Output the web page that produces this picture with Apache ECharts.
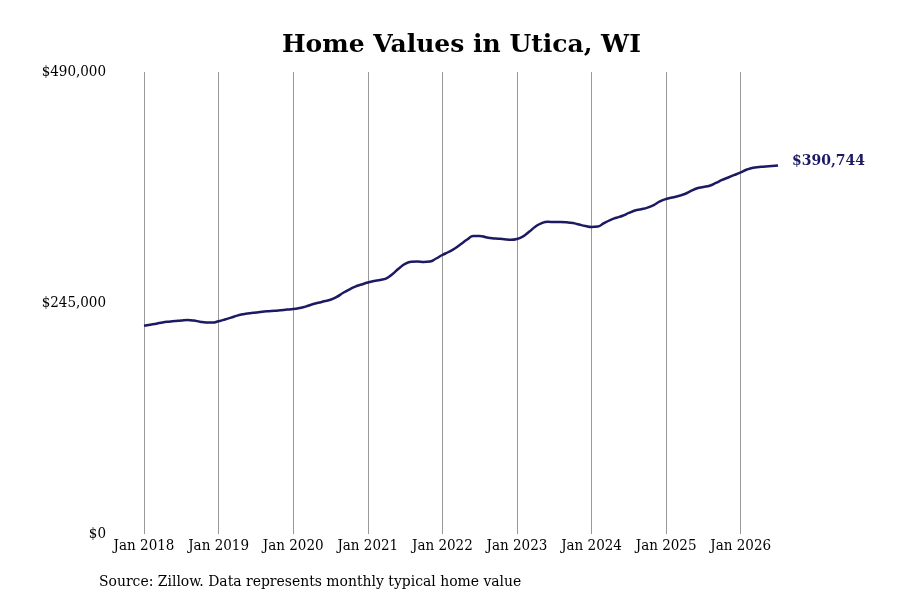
<!DOCTYPE html>
<html>
<head>
<meta charset="utf-8">
<script src="https://cdn.jsdelivr.net/npm/echarts@6/dist/echarts.min.js"></script>
<style>
  html, body { margin: 0; padding: 0; background: #fff; }
  #main { width: 900px; height: 600px; }
</style>
</head>
<body>
<div id="main"></div>
<script>
// 月份 Jan 2018 .. Jul 2026
var years = [2018, 2019, 2020, 2021, 2022, 2023, 2024, 2025, 2026];
var monthNames = ['Jan','Feb','Mar','Apr','May','Jun','Jul','Aug','Sep','Oct','Nov','Dec'];

// 每月典型房价
var values2018 = [220900, 222000, 223100, 224400, 225200, 225800, 226400, 226900, 226400, 225100, 224300, 224200];
var values2019 = [225700, 227500, 229500, 231600, 233100, 234100, 234900, 235700, 236300, 236800, 237400, 238000];
var values2020 = [238600, 239700, 241200, 243400, 245200, 246800, 248400, 251400, 255600, 259300, 262400, 264600];
var values2021 = [266700, 268300, 269400, 271200, 275800, 281600, 286400, 288700, 289000, 288500, 289000, 292200];
var values2022 = [295900, 299100, 302800, 307600, 312300, 316100, 316100, 314800, 313600, 313200, 312700, 312000];
var values2023 = [312900, 315700, 320800, 326100, 329800, 331100, 330900, 330900, 330600, 329800, 328200, 326700];
var values2024 = [325600, 326100, 329800, 333000, 335400, 337500, 340500, 343100, 344400, 346100, 348900, 352700];
var values2025 = [355300, 356900, 358500, 360600, 363800, 366700, 368000, 369400, 372300, 375500, 378100, 380800];
var values2026 = [383600, 386600, 388500, 389200, 389800, 390200, 390744];

var yTicks = [0, 245000, 490000];

var categories = [];
years.forEach(function (y) {
    monthNames.forEach(function (m) { categories.push(m + ' ' + y); });
});
var seriesData = [].concat(values2018, values2019, values2020, values2021, values2022,
    values2023, values2024, values2025, values2026);
categories = categories.slice(0, seriesData.length);

var myChart = echarts.init(document.getElementById('main'));
var serif = 'DejaVu Serif';
var serifCond = '"DejaVu Serif Condensed", "DejaVu Serif"';

function isJan(index, value) {
    return categories[index].indexOf('Jan') === 0;
}

var option = {
    animation: false,
    title: [{
        text: 'Home Values in Utica, WI',
        left: 277,
        top: 28,
        textStyle: { fontFamily: serif, fontSize: 25, fontWeight: 'bold', color: '#000' }
    }, {
        text: 'Source: Zillow. Data represents monthly typical home value',
        left: 94,
        top: 569,
        textStyle: { fontFamily: serifCond, fontSize: 15.5, fontWeight: 'normal', color: '#000' }
    }],
    grid: {
        left: 144,
        right: 122,
        top: 72,
        bottom: 66,
        containLabel: false
    },
    xAxis: {
        type: 'category',
        boundaryGap: false,
        data: categories,
        axisLine: { show: false },
        axisTick: { show: false },
        axisLabel: {
            interval: isJan,
            fontFamily: serifCond,
            fontSize: 15,
            color: '#000',
            margin: 5
        },
        splitLine: {
            show: true,
            interval: isJan,
            lineStyle: { color: '#999', width: 1 }
        }
    },
    yAxis: {
        type: 'value',
        min: yTicks[0],
        max: yTicks[2],
        interval: yTicks[1],
        axisLine: { show: false },
        axisTick: { show: false },
        splitLine: { show: false },
        axisLabel: {
            margin: 38,
            fontFamily: serifCond,
            fontSize: 15,
            color: '#000',
            formatter: function (v) { return '$' + v.toLocaleString('en-US'); }
        }
    },
    series: [{
        type: 'line',
        data: seriesData,
        smooth: true,
        symbol: 'none',
        lineStyle: { color: '#1b1a62', width: 2.5 },
        endLabel: {
            show: true,
            distance: 14,
            offset: [0, -4],
            fontFamily: serif,
            fontSize: 14,
            fontWeight: 'bold',
            color: '#1b1a62',
            formatter: function (p) { return '$' + p.value.toLocaleString('en-US'); }
        }
    }]
};
myChart.setOption(option);
</script>
</body>
</html>
